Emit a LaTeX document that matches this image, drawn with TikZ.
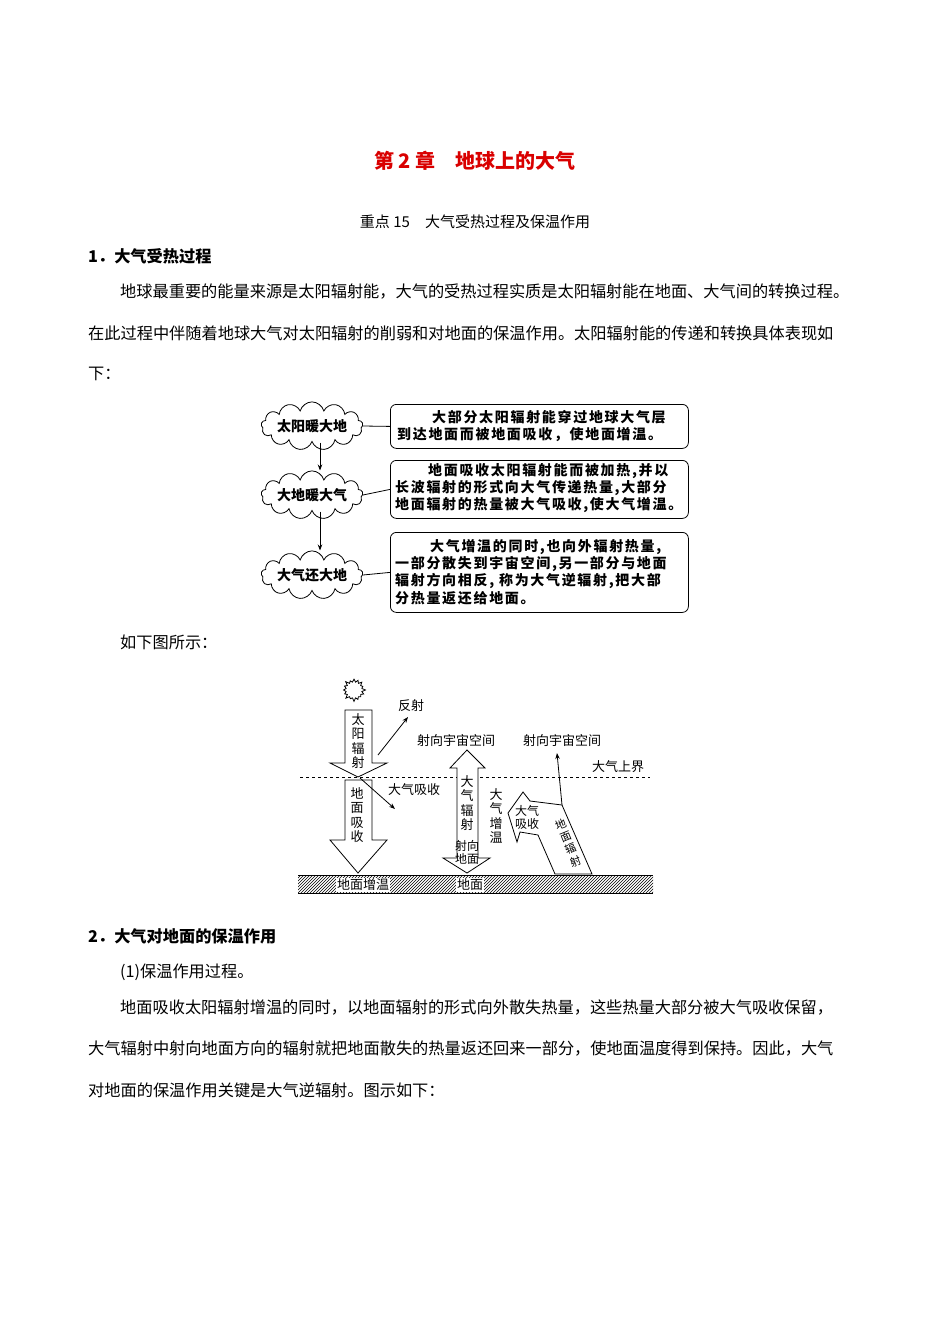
\documentclass[tikz,border=0pt]{standalone}
\usepackage{fontspec}
\setmainfont{Noto Sans CJK SC}
\newfontfamily\boxfont[LetterSpace=12]{Noto Sans CJK SC}
\usetikzlibrary{shapes.symbols,patterns,arrows.meta}
\begin{document}
\begin{tikzpicture}[x=1pt,y=-1pt,
  body/.style={anchor=west,inner sep=0pt,font=\fontsize{16.2}{18}\selectfont},
  cloudn/.style={cloud,cloud puffs=13,aspect=3.2,draw,thick,minimum width=94pt,minimum height=30pt,font=\fontsize{14}{16}\selectfont\bfseries,inner sep=0pt},
  boxn/.style={draw,thick,rounded corners=6pt,minimum width=298pt,anchor=north west,inner sep=0pt},
  btxt/.style={anchor=west,inner sep=0pt,font=\boxfont\fontsize{14}{16}\selectfont\bfseries},
  lab/.style={inner sep=0pt,font=\fontsize{13}{15}\selectfont},
  bigarr/.style={draw,thick,fill=white},
  thin/.style={-{Stealth[length=6pt]},thick}]
\useasboundingbox (0,0) rectangle (950,1344);
\node (title) at (475,161) {\fontsize{20}{24}\selectfont\bfseries\color{red!85!black}第 2 章\quad 地球上的大气};
\node (sub) at (475,222) {\fontsize{15}{18}\selectfont 重点 15\quad 大气受热过程及保温作用};
\node[body] (h1) at (88,256) {\bfseries 1．大气受热过程};
\node[body] (p1) at (120,292) {地球最重要的能量来源是太阳辐射能，大气的受热过程实质是太阳辐射能在地面、大气间的转换过程。};
\node[body] (p2) at (88,333) {在此过程中伴随着地球大气对太阳辐射的削弱和对地面的保温作用。太阳辐射能的传递和转换具体表现如};
\node[body] (p3) at (88,374) {下：};
% flow
\node[cloudn] (c1) at (312,426) {太阳暖大地};
\node[cloudn] (c2) at (312,495) {大地暖大气};
\node[cloudn] (c3) at (312,575) {大气还大地};
\draw[thick,-{Stealth[length=6pt]}] (c1.south) ++(8,0) coordinate (a1) -- (a1 |- c2.north);
\draw[thick,-{Stealth[length=6pt]}] (c2.south) ++(8,0) coordinate (a2) -- (a2 |- c3.north);
\node[boxn,minimum height=44pt] (b1) at (390,404) {};
\node[boxn,minimum height=58pt] (b2) at (390,460) {};
\node[boxn,minimum height=80pt] (b3) at (390,532) {};
\draw[thick] (c1.east) -- (b1.west);
\draw[thick] (c2.east) -- (b2.west);
\draw[thick] (c3.east) -- (b3.west);
\node[btxt] (t11) at (432,417) {大部分太阳辐射能穿过地球大气层};
\node[btxt] (t12) at (397,435) {到达地面而被地面吸收，使地面增温。};
\node[btxt] (t21) at (428,471) {地面吸收太阳辐射能而被加热,并以};
\node[btxt] (t22) at (395,488) {长波辐射的形式向大气传递热量,大部分};
\node[btxt] (t23) at (395,505) {地面辐射的热量被大气吸收,使大气增温。};
\node[btxt] (t31) at (430,547) {大气增温的同时,也向外辐射热量,};
\node[btxt] (t32) at (395,564) {一部分散失到宇宙空间,另一部分与地面};
\node[btxt] (t33) at (395,581) {辐射方向相反, 称为大气逆辐射,把大部};
\node[btxt] (t34) at (395,598) {分热量返还给地面。};
\node[body] (p4) at (120,642) {如下图所示：};
% diagram 2
\node[starburst,starburst points=16,starburst point height=4pt,draw,thick,minimum size=24pt,inner sep=0pt] (sun) at (354,690) {};
\draw[dashed,thick] (300,777) coordinate (dl) -- (650,777) coordinate (dr);
\fill[white] (298,875) rectangle (653,893);
\fill[pattern=north east lines] (298,875) rectangle (653,893);
\draw[thick] (298,875) -- (653,875) (298,893) -- (653,893);
\node[lab,fill=white,inner sep=1pt] (gw) at (363,885) {地面增温};
\node[lab,fill=white,inner sep=1pt] (gd) at (470,885) {地面};
\draw[bigarr] (345,710) -- (372,710) -- (372,763) -- (387,763) -- (358,777) -- (330,763) -- (345,763) -- cycle;
\node[lab,align=center,font=\fontsize{13}{14.5}\selectfont] (sr) at (358,741) {太\\阳\\辐\\射};
\draw[bigarr] (345,780) -- (372,780) -- (372,840) -- (387,840) -- (358,873) -- (330,840) -- (345,840) -- cycle;
\node[lab,align=center,font=\fontsize{13}{14.5}\selectfont] (ga) at (357,815) {地\\面\\吸\\收};
\coordinate (rf0) at (378,755);
\draw[thin] (rf0) -- (408,717);
\node[lab] (fs) at (411,706) {反射};
\coordinate (ab0) at (360,778);
\draw[thin] (ab0) -- (395,809);
\node[lab] (dq) at (414,790) {大气吸收};
\draw[bigarr] (467,750) -- (485,768) -- (478,768) -- (478,858) -- (490,858) -- (467,873) -- (443,858) -- (457,858) -- (457,768) -- (450,768) -- cycle;
\node[lab,align=center,font=\fontsize{13}{14.5}\selectfont] (aq) at (467,803) {大\\气\\辐\\射};
\node[lab,align=center,font=\fontsize{12}{13}\selectfont] (sx) at (467,852) {射向\\地面};
\node[lab,align=center,font=\fontsize{13}{14.5}\selectfont] (zw) at (496,816) {大\\气\\增\\温};
\node[lab] (s1) at (456,741) {射向宇宙空间};
\node[lab] (s2) at (562,741) {射向宇宙空间};
\node[lab] (sj) at (618,767) {大气上界};
\draw[bigarr] (592,874) -- (562,805) -- (530,801) -- (523,792) -- (508,813) -- (517,842) -- (520,832) -- (538,835) -- (555,874) -- cycle;
\coordinate (gr0) at (562,805);
\draw[thin] (gr0) -- (557,753);
\node[lab,align=center,font=\fontsize{12}{13}\selectfont] (xs) at (527,817) {大气\\吸收};
\node[lab,align=center,rotate=22,font=\fontsize{11}{13}\selectfont] (dm) at (568,843) {地\\面\\辐\\射};
% section 2
\node[body] (h2) at (88,936) {\bfseries 2．大气对地面的保温作用};
\node[body] (p5) at (120,972) {(1)保温作用过程。};
\node[body] (p6) at (120,1008) {地面吸收太阳辐射增温的同时，以地面辐射的形式向外散失热量，这些热量大部分被大气吸收保留，};
\node[body] (p7) at (88,1049) {大气辐射中射向地面方向的辐射就把地面散失的热量返还回来一部分，使地面温度得到保持。因此，大气};
\node[body] (p8) at (88,1090) {对地面的保温作用关键是大气逆辐射。图示如下：};
\end{tikzpicture}
\end{document}
